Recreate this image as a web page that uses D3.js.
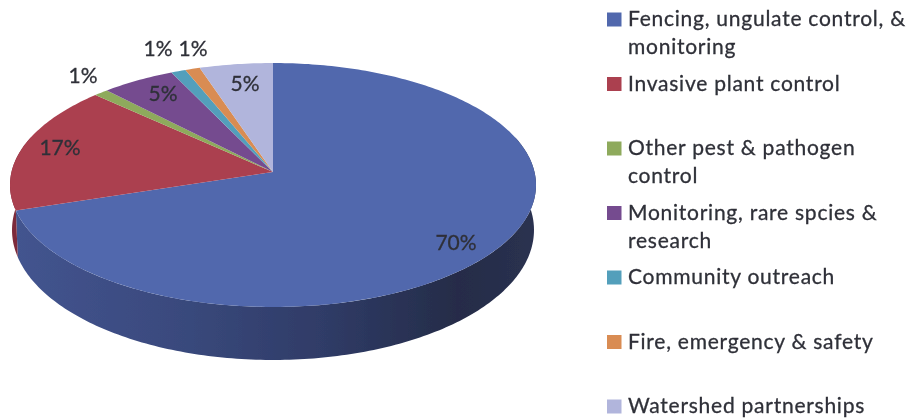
<!DOCTYPE html>
<html>
<head>
<meta charset="utf-8">
<script src="https://cdn.jsdelivr.net/npm/d3@7"></script>
<style>
    body { margin: 0; background: #fff; }
    text { font-family: Lato, "Open Sans", sans-serif; fill: #2f3038; stroke: #2f3038; stroke-width: 0.3px; }
</style>
</head>
<body>
<div id="chart"></div>
<script>
// values and names, clockwise from 12 o'clock
const categories = ["Fencing", "Invasive", "Other pest", "Monitoring", "Outreach", "Fire", "Watershed"];
const shares = [70, 17, 1, 5, 1, 1, 5];
const shareLabels = ["70%", "17%", "1%", "5%", "1%", "1%", "5%"];
const colors = ["#5168ad", "#ab3f4f", "#8eaa5c", "#744c8f", "#539fbb", "#d98c52", "#b1b5dc"];
const sideColors = ["#3d4d85", "#7d2c3a", "#66803f", "#54366a", "#3a7790", "#a8683a", "#8689b0"];
const legendLines = [
    ["Fencing, ungulate control, &", "monitoring"],
    ["Invasive plant control"],
    ["Other pest & pathogen", "control"],
    ["Monitoring, rare spcies &", "research"],
    ["Community outreach"],
    ["Fire, emergency & safety"],
    ["Watershed partnerships"]
];
// label anchor points on the page
const labelSpots = [[456, 245], [60, 150], [83, 78], [163, 96], [158, 51], [193, 51], [245, 86]];

const width = 906, height = 419;
const tilt = 0.1066;   // perspective of the disc

const xScale = d3.scaleLinear().domain([-1, 1]).range([11.5, 534.5]);
const yScale = d3.scaleLinear().domain([-1, 1]).range([292.6, 51.4]);
// lower rim of the wall, from the top rim
const rimX = d3.scaleLinear().domain([11, 535]).range([13, 533]);
const rimY = d3.scaleLinear().domain([63, 307]).range([100, 360]);

// angle is clockwise from the top, result is a page point
function project(angle) {
    let u = Math.sin(angle), v = Math.cos(angle);
    let k = 1 + tilt * v;
    return [xScale(u / k), yScale(v / k)];
}

function projectRim(angle) {
    let p = project(angle);
    return [rimX(p[0]), rimY(p[1])];
}

const svg = d3.select("#chart").append("svg")
    .attr("width", width)
    .attr("height", height);

const defs = svg.append("defs");
defs.append("filter").attr("id", "scan")
    .attr("x", "-5%").attr("y", "-5%").attr("width", "110%").attr("height", "110%")
    .append("feGaussianBlur").attr("stdDeviation", 0.7);

const grad = defs.append("linearGradient").attr("id", "side-blue");
grad.selectAll("stop")
    .data([[0, "#43548f"], [0.3, "#3a4a7e"], [0.6, "#2f3b66"], [0.85, "#252c48"], [1, "#2a3150"]])
    .enter().append("stop")
    .attr("offset", d => d[0])
    .attr("stop-color", d => d[1]);

const slices = d3.pie().sort(null)(shares);
const line = d3.line();
const root = svg.append("g").attr("filter", "url(#scan)");

function arcPoints(a0, a1, fn) {
    let n = Math.max(2, Math.ceil((a1 - a0) * 60));
    return d3.range(n + 1).map(i => fn(a0 + (a1 - a0) * i / n));
}

// walls: only the part of the rim facing us (right side round to the left side)
const frontStart = Math.PI / 2 - 0.3, frontEnd = Math.PI * 1.5 + 0.3;
root.selectAll("path.side")
    .data(slices.filter(d => d.startAngle < frontEnd && d.endAngle > frontStart))
    .enter().append("path")
    .attr("class", "side")
    .attr("fill", (d, i) => i == 0 ? "url(#side-blue)" : sideColors[d.index])
    .attr("d", d => {
        let a0 = Math.max(d.startAngle, frontStart), a1 = Math.min(d.endAngle, frontEnd);
        return line(arcPoints(a0, a1, project).concat(arcPoints(a0, a1, projectRim).reverse())) + "Z";
    });

// top face
root.selectAll("path.slice")
    .data(slices)
    .enter().append("path")
    .attr("class", "slice")
    .attr("fill", d => colors[d.index])
    .attr("d", d => line([[xScale(0), yScale(0)]]
        .concat(arcPoints(d.startAngle, d.endAngle, project))) + "Z");

// percent labels
root.selectAll("text.share")
    .data(shareLabels)
    .enter().append("text")
    .attr("class", "share")
    .attr("x", (d, i) => labelSpots[i][0])
    .attr("y", (d, i) => labelSpots[i][1])
    .attr("text-anchor", "middle")
    .attr("dominant-baseline", "middle")
    .attr("font-size", 21)
    .text(d => d);

// legend
const legendY = d3.scaleLinear().domain([0, categories.length - 1]).range([21, 408]);
const legend = root.selectAll("g.legend")
    .data(legendLines)
    .enter().append("g")
    .attr("class", "legend")
    .attr("transform", (d, i) => "translate(607," + legendY(i) + ")");

legend.append("rect")
    .attr("y", -8.5)
    .attr("width", 14.5)
    .attr("height", 14)
    .attr("fill", (d, i) => colors[i]);

legend.selectAll("text")
    .data(d => d)
    .enter().append("text")
    .attr("x", 21)
    .attr("y", (d, i) => i * 28)
    .attr("dominant-baseline", "middle")
    .attr("font-size", 21)
    .attr("letter-spacing", 0.75)
    .text(d => d);
</script>
</body>
</html>
